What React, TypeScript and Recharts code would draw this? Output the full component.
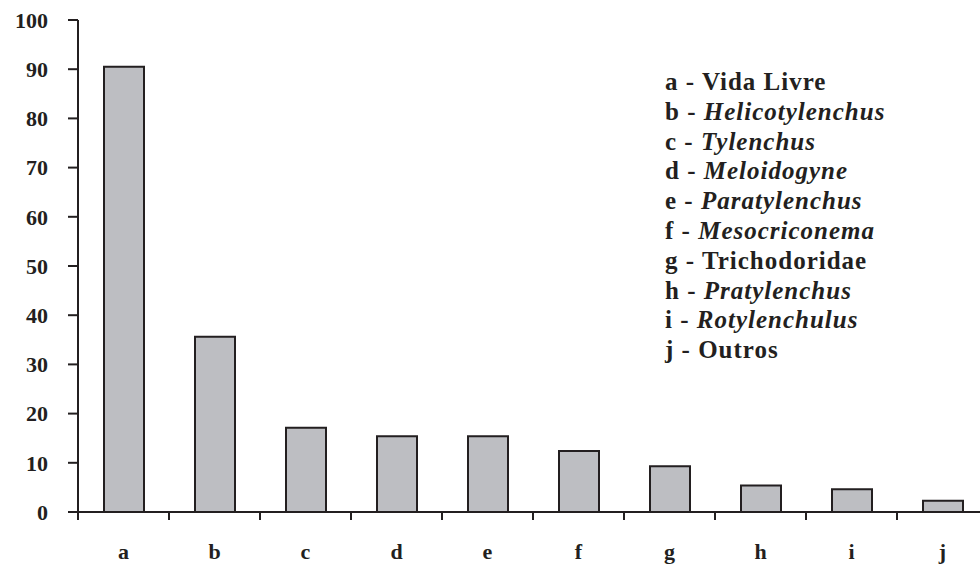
import { Bar, BarChart, XAxis, YAxis } from "recharts";

const CATEGORIES = ["a", "b", "c", "d", "e", "f", "g", "h", "i", "j"];
const VALUES = [90.5, 35.6, 17.1, 15.4, 15.4, 12.4, 9.3, 5.4, 4.6, 2.3];
const Y_TICKS = [0, 10, 20, 30, 40, 50, 60, 70, 80, 90, 100];
const LEGEND_ITEMS: { key: string; name: string; italic: boolean }[] = [
  { key: "a", name: "Vida Livre", italic: false },
  { key: "b", name: "Helicotylenchus", italic: true },
  { key: "c", name: "Tylenchus", italic: true },
  { key: "d", name: "Meloidogyne", italic: true },
  { key: "e", name: "Paratylenchus", italic: true },
  { key: "f", name: "Mesocriconema", italic: true },
  { key: "g", name: "Trichodoridae", italic: false },
  { key: "h", name: "Pratylenchus", italic: true },
  { key: "i", name: "Rotylenchulus", italic: true },
  { key: "j", name: "Outros", italic: false },
];

const INK = "#231f20";
const BAR_FILL = "#bdbec2";
const FONT = "'Liberation Serif', 'Times New Roman', serif";

const data = CATEGORIES.map((cat, i) => ({ cat, value: VALUES[i] }));

const tickStyle = { fill: INK, fontSize: 22, fontWeight: 700, fontFamily: FONT };

// category label at the band centre, small tick mark at the band's left edge
function CategoryTick(props: any) {
  const { x, y, payload } = props;
  const edge = x - (payload?.offset ?? 0);
  return (
    <g>
      <line x1={edge} x2={edge} y1={y} y2={y + 8} stroke={INK} strokeWidth={2} />
      <text x={x} y={y + 47} textAnchor="middle" {...tickStyle}>
        {payload.value}
      </text>
    </g>
  );
}

export default function App() {
  return (
    <div
      style={{
        position: "absolute",
        left: 0,
        top: 0,
        width: 980,
        height: 566,
        overflow: "hidden",
        background: "#fff",
        fontFamily: FONT,
      }}
    >
      <BarChart
        width={1000}
        height={566}
        data={data}
        margin={{ top: 20, right: 12, left: 0, bottom: 0 }}
      >
        <XAxis
          dataKey="cat"
          interval={0}
          axisLine={{ stroke: INK, strokeWidth: 2 }}
          tickLine={false}
          tickSize={0}
          tickMargin={0}
          height={54}
          tick={<CategoryTick />}
        />
        <YAxis
          domain={[0, 100]}
          ticks={Y_TICKS}
          width={78}
          tickSize={10}
          tickMargin={20}
          interval={0}
          axisLine={{ stroke: INK, strokeWidth: 2 }}
          tickLine={{ stroke: INK, strokeWidth: 2 }}
          tick={tickStyle}
        />
        <Bar
          dataKey="value"
          barSize={40}
          fill={BAR_FILL}
          stroke={INK}
          strokeWidth={2}
          isAnimationActive={false}
        />
      </BarChart>
      <div
        style={{
          position: "absolute",
          left: 665,
          top: 67,
          color: INK,
          fontSize: 25,
          fontWeight: 700,
          letterSpacing: "1px",
          lineHeight: "29.8px",
        }}
      >
        {LEGEND_ITEMS.map((item) => (
          <div key={item.key} style={{ whiteSpace: "nowrap" }}>
            {item.key} - {item.italic ? <i>{item.name}</i> : item.name}
          </div>
        ))}
      </div>
    </div>
  );
}
